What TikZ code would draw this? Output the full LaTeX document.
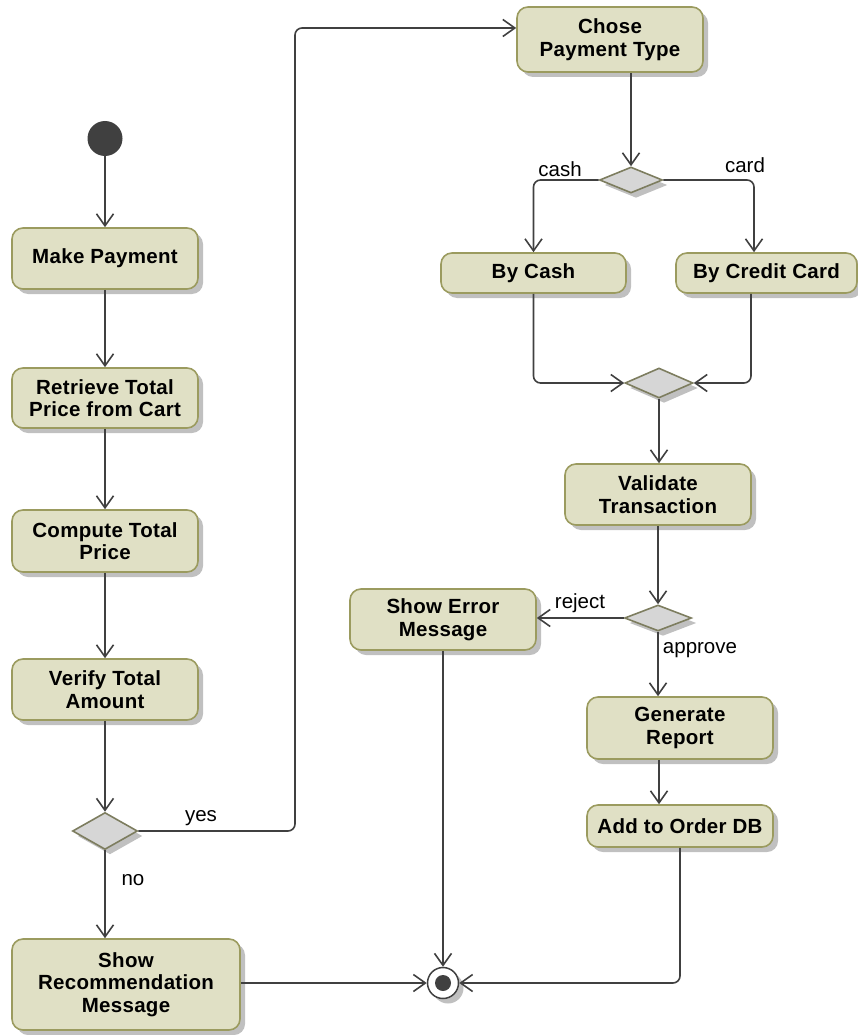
\documentclass[tikz,border=0pt]{standalone}
\usepackage{fontspec}
\setmainfont{Liberation Sans}
\usetikzlibrary{shapes.geometric,arrows.meta,shadows}
\definecolor{actfill}{RGB}{224,224,197}
\definecolor{actdraw}{RGB}{155,155,95}
\definecolor{decfill}{RGB}{214,214,214}
\definecolor{decdraw}{RGB}{125,125,95}
\definecolor{flowc}{RGB}{64,64,64}
\definecolor{shadowc}{RGB}{192,192,192}
\begin{document}
\begin{tikzpicture}[x=1pt,y=-1pt,
  castshadow/.style={drop shadow={shadow xshift=5pt,shadow yshift=-5pt,fill=shadowc,opacity=1}},
  action/.style={castshadow,draw=actdraw,fill=actfill,line width=1.6pt,rounded corners=11pt,
    inner sep=0pt,align=center,font=\fontsize{20.5}{22.5}\selectfont\bfseries\addfontfeatures{LetterSpace=1.5}},
  decision/.style={castshadow,diamond,draw=decdraw,fill=decfill,line width=1.6pt,inner sep=0pt},
  startnode/.style={circle,fill=flowc,minimum size=35pt,inner sep=0pt},
  endnode/.style={castshadow,circle,draw=flowc,fill=white,line width=1.5pt,minimum size=31pt,inner sep=0pt,
    path picture={\fill[flowc] (path picture bounding box.center) circle (8pt);}},
  flow/.style={draw=flowc,line width=1.6pt,rounded corners=7pt,-{Straight Barb[length=12pt,width=17pt]}},
  guard/.style={font=\fontsize{20.5}{22}\selectfont,inner sep=0pt}
]
\useasboundingbox (0,0) rectangle (857,1035);

% left column: preparing the payment
\node[startnode] (init) at (105,138.5) {};
\node[action,minimum width=186pt,minimum height=61pt] (pay) at (105,258.5) {Make Payment};
\node[action,minimum width=186pt,minimum height=60pt] (retr) at (105,398) {Retrieve Total\\Price from Cart};
\node[action,minimum width=186pt,minimum height=62pt] (comp) at (105,541) {Compute Total\\Price};
\node[action,minimum width=186pt,minimum height=61pt] (verif) at (105,689.5) {Verify Total\\Amount};
\node[decision,minimum width=65pt,minimum height=37pt] (d1) at (105,831) {};
\node[action,minimum width=228pt,minimum height=91pt] (recom) at (126,984.5) {Show\\Recommendation\\Message};

% right column: paying and validating
\node[action,minimum width=186pt,minimum height=65pt] (chose) at (610,39.5) {Chose\\Payment Type};
\node[decision,minimum width=63pt,minimum height=26pt] (d2) at (631,180) {};
\node[action,minimum width=185pt,minimum height=40pt] (cash) at (533.5,273) {By Cash};
\node[action,minimum width=181pt,minimum height=40pt] (card) at (766.5,273) {By Credit Card};
\node[decision,minimum width=68pt,minimum height=30pt] (d3) at (659,383) {};
\node[action,minimum width=186pt,minimum height=61pt] (valid) at (658,494.5) {Validate\\Transaction};
\node[decision,minimum width=67pt,minimum height=26pt] (d4) at (658,618) {};
\node[action,minimum width=186pt,minimum height=61pt] (err) at (443,619.5) {Show Error\\Message};
\node[action,minimum width=186pt,minimum height=62pt] (report) at (680,728) {Generate\\Report};
\node[action,minimum width=186pt,minimum height=42pt] (store) at (680,826) {Add to Order DB};
\node[endnode] (final) at (443,983) {};

\coordinate (yesturn) at (295,28);

% control flow
\draw[flow] (init) -- (pay);
\draw[flow] (pay) -- (retr);
\draw[flow] (retr) -- (comp);
\draw[flow] (comp) -- (verif);
\draw[flow] (verif) -- (d1);
\draw[flow] (d1.east) -| (yesturn) -- (yesturn -| chose.west);
\draw[flow] (d1.south) -- (d1.south |- recom.north);
\draw[flow] (d2.north |- chose.south) -- (d2.north);
\draw[flow] (d2.west) -| (cash.north);
\draw[flow] (d2.east) -| ([xshift=-12.5pt]card.north);
\draw[flow] (cash.south) |- (d3.west);
\draw[flow] ([xshift=-15.5pt]card.south) |- (d3.east);
\draw[flow] (d3.south) -- (d3.south |- valid.north);
\draw[flow] (valid.south -| d4.north) -- (d4.north);
\draw[flow] (d4.west) -- (d4.west -| err.east);
\draw[flow] (d4.south) -- (d4.south |- report.north);
\draw[flow] ([xshift=-21pt]report.south) -- ([xshift=-21pt]store.north);
\draw[flow] (err.south) -- (err.south |- final.north);
\draw[flow] (recom.east |- final.west) -- (final.west);
\draw[flow] (store.south) |- (final.east);

% guards
\node[guard] (gyes) at (201,818) {yes};
\node[guard] (gno) at (133,880) {no};
\node[guard] (gcash) at (560,169) {cash};
\node[guard] (gcard) at (745,165) {card};
\node[guard] (greject) at (580,603) {reject};
\node[guard] (gapprove) at (700,650) {approve};
\end{tikzpicture}
\end{document}
